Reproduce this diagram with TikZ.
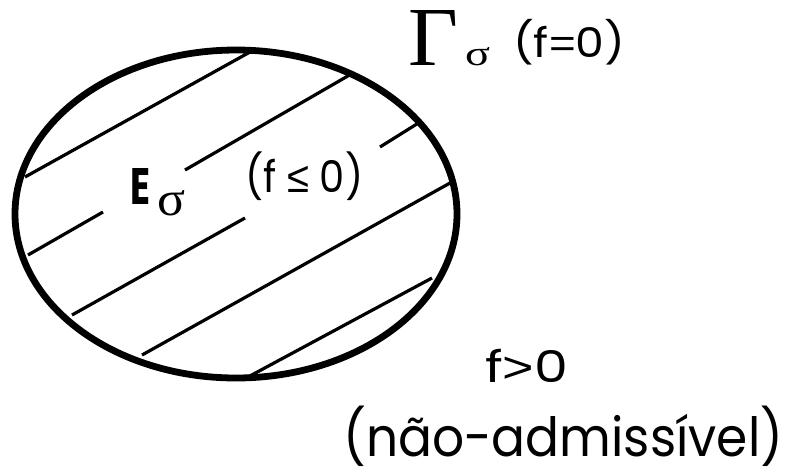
\documentclass[tikz,border=0pt]{standalone}
\usepackage{fontspec}
\setmainfont{Poppins}
\newfontfamily\grk{Liberation Serif}
\newfontfamily\sym{Liberation Sans}
\newcommand{\fitbox}[4]{\resizebox{#1}{#2}{\smash{#4}\vphantom{#3}}}
\begin{document}
\begin{tikzpicture}[x=1pt,y=-1pt,
  hatch/.style={line width=3.2pt},
  rim/.style={line width=6.8pt},
  lbl/.style={anchor=base west,inner sep=0pt}]
\useasboundingbox (0,0) rectangle (791,475);
% hatch segments
\draw[hatch] (25,177) -- (250,52);
\draw[hatch] (28,255) -- (103,212);
\draw[hatch] (185,170) -- (353,73);
\draw[hatch] (72,315) -- (245,218);
\draw[hatch] (380,147) -- (420,122);
\draw[hatch] (142,355) -- (450,183);
\draw[hatch] (248,377) -- (432,278);
% boundary
\draw[rim] (236,214) ellipse [x radius=221pt, y radius=164pt];
% labels
\node[lbl] (gam) at (408,65) {\resizebox{50pt}{55pt}{\grk Γ}};
\node[lbl] (gsig) at (465,65) {\resizebox{25pt}{18pt}{\grk σ}};
\node[lbl] (feq) at (513,57) {\fitbox{112pt}{30pt}{0}{(f{\sym =}0)}};
\node[lbl] (E) at (130,204) {\resizebox{20pt}{36pt}{\bfseries E}};
\node[lbl] (Esig) at (157,215) {\resizebox{28pt}{25pt}{\grk σ}};
\node[lbl] (fle) at (245,192) {\fitbox{118pt}{32pt}{0}{(f {\sym ≤} 0)}};
\node[lbl] (fgt) at (485,382) {\fitbox{83pt}{32pt}{0}{f{\sym >}0}};
\node[lbl] (na) at (343,456) {\fitbox{440pt}{40pt}{l}{(não-admissível)}};
\end{tikzpicture}
\end{document}
